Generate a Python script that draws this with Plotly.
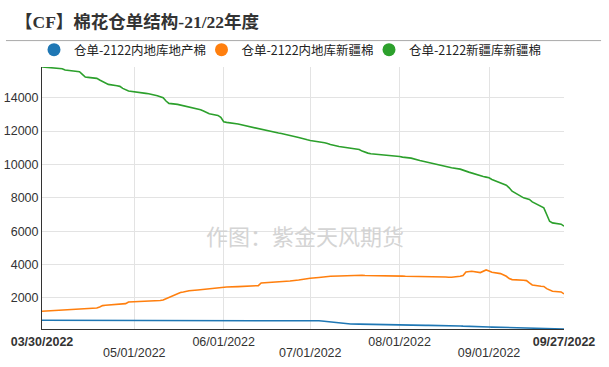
import pandas as pd
import plotly.graph_objects as go

# Trading days (CZCE calendar, 2022-03-30 .. 2022-09-27)
holidays = ["2022-04-04", "2022-04-05", "2022-05-02", "2022-05-03", "2022-05-04",
            "2022-06-03", "2022-09-12"]
dates = [d for d in pd.bdate_range("2022-03-30", "2022-09-27") if d.strftime("%Y-%m-%d") not in holidays]

series_names = ["仓单-2122内地库地产棉", "仓单-2122内地库新疆棉", "仓单-2122新疆库新疆棉"]

blue_vals = [660, 660, 660, 655, 655, 655, 650, 650, 650, 650, 650, 650, 650, 650, 650, 650,
             645, 645, 645, 645, 645, 640, 640, 640, 640, 640, 645, 650, 660, 670, 670, 670,
             665, 660, 660, 655, 650, 650, 650, 645, 645, 645, 640, 640, 640, 640, 640, 640,
             635, 635, 635, 635, 635, 635, 635, 630, 630, 630, 630, 630, 630, 630, 630, 620,
             600, 570, 540, 500, 480, 460, 450, 440, 430, 425, 420, 415, 410, 400, 400, 395,
             390, 385, 380, 378, 375, 372, 370, 365, 365, 360, 360, 360, 350, 345, 340, 335,
             330, 320, 310, 300, 290, 280, 270, 265, 262, 260, 255, 240, 235, 230, 225, 220,
             205, 200, 195, 190, 180, 175, 170, 165, 160, 150, 140]

orange_vals = [1200, 1210, 1220, 1260, 1270, 1280, 1300, 1310, 1320, 1330, 1340, 1400, 1460,
               1540, 1560, 1580, 1620, 1640, 1650, 1660, 1760, 1790, 1800, 1830, 1850, 1880,
               1960, 2060, 2260, 2330, 2360, 2400, 2430, 2480, 2500, 2530, 2550, 2560, 2600,
               2620, 2640, 2660, 2680, 2690, 2700, 2710, 2720, 2740, 2900, 2910, 2920, 2930,
               2950, 2960, 2980, 3000, 3020, 3080, 3110, 3140, 3160, 3180, 3230, 3250, 3270,
               3290, 3300, 3320, 3330, 3340, 3350, 3360, 3360, 3360, 3350, 3350, 3350, 3340,
               3340, 3330, 3330, 3320, 3310, 3310, 3300, 3300, 3300, 3300, 3300, 3300, 3300,
               3300, 3300, 3300, 3260, 3240, 3240, 3300, 3340, 3560, 3580, 3600, 3520, 3600,
               3680, 3620, 3540, 3460, 3400, 3300, 3160, 3100, 3060, 3040, 2900, 2780, 2700,
               2690, 2560, 2460, 2400, 2360, 2240]

green_vals = [15840, 15820, 15800, 15740, 15660, 15640, 15620, 15560, 15400, 15240, 15220,
              15160, 15060, 14980, 14880, 14800, 14720, 14680, 14560, 14460, 14400, 14260,
              14240, 14120, 14060, 14000, 13800, 13660, 13600, 13560, 13520, 13480, 13440,
              13340, 13280, 13200, 13100, 13040, 12940, 12820, 12560, 12520, 12420, 12380,
              12320, 12290, 12260, 12160, 12110, 12060, 12010, 11960, 11880, 11850, 11820,
              11780, 11740, 11620, 11560, 11520, 11480, 11440, 11380, 11340, 11300, 11260,
              11200, 11080, 11060, 11040, 11020, 11000, 10900, 10800, 10720, 10680, 10640,
              10600, 10580, 10560, 10540, 10520, 10480, 10440, 10420, 10400, 10380, 10240,
              10200, 10160, 10120, 10080, 9920, 9880, 9840, 9820, 9800, 9720, 9680, 9600,
              9540, 9480, 9320, 9280, 9240, 9200, 9100, 8920, 8860, 8760, 8600, 8400, 8000,
              7960, 7900, 7760, 7500, 7400, 7000, 6600, 6500, 6420, 6300]

colors = ["#1f77b4", "#ff7f0e", "#2ca02c"]

row1_ticks = ["2022-03-30", "2022-06-01", "2022-08-01", "2022-09-27"]
row1_text = ["<b>03/30/2022</b>", "06/01/2022", "08/01/2022", "<b>09/27/2022</b>"]
month_ticks = ["2022-05-01", "2022-06-01", "2022-07-01", "2022-08-01", "2022-09-01"]
month_text = ["05/01/2022", "", "07/01/2022", "", "09/01/2022"]   # second label row
y_ticks = [2000, 4000, 6000, 8000, 10000, 12000, 14000]

all_vals = blue_vals + orange_vals + green_vals
x_range = [dates[0], dates[-1]]

fig = go.Figure()
for name, vals, c in zip(series_names, [blue_vals, orange_vals, green_vals], colors):
    fig.add_trace(go.Scatter(x=dates, y=vals, mode="lines", name=name,
                             line=dict(color=c, width=1.6), showlegend=False,
                             legendgroup=name))
for i, (name, c) in enumerate(zip(series_names, colors)):
    # legend entries (round markers); they also anchor the second-row date axis
    fig.add_trace(go.Scatter(x=[None], y=[None], mode="markers", name=name,
                             marker=dict(color=c, size=13), legendgroup=name,
                             legendwidth=140 if i == len(series_names) - 1 else None,
                             xaxis="x2", yaxis="y"))

font_main = "Liberation Sans, Arial, Noto Sans CJK SC, sans-serif"
W, H = 609, 367

fig.update_layout(
    width=W, height=H,
    margin=dict(l=42, r=45, t=67, b=38, autoexpand=False),
    paper_bgcolor="white", plot_bgcolor="white",
    font=dict(family=font_main, size=12.5, color="#333"),
    title=dict(text="<b>【CF】棉花仓单结构-21/22年度</b>",
               font=dict(family="Liberation Serif, Noto Sans CJK SC, serif", size=17.5, color="#333"),
               x=15 / W, xanchor="left", xref="container",
               y=1 - 21.5 / H, yanchor="middle", yref="container"),
    legend=dict(orientation="h", xref="container", x=34 / W, xanchor="left",
                yref="container", y=1 - 50 / H, yanchor="middle",
                font=dict(family="Noto Sans CJK SC, Liberation Sans, sans-serif", size=12.5, color="#222"),
                itemwidth=30, entrywidth=122.5, entrywidthmode="pixels",
                tracegroupgap=0, bgcolor="rgba(0,0,0,0)"),
    xaxis=dict(type="date", range=x_range, tickmode="array", tickvals=row1_ticks,
               ticktext=row1_text, showgrid=False,
               showline=True, linecolor="#333", linewidth=1, ticks="",
               ticklabelstandoff=1, zeroline=False, tickangle=0, automargin=False),
    xaxis2=dict(type="date", range=x_range, overlaying="x", anchor="y", side="bottom",
                tickmode="array", tickvals=month_ticks, ticktext=month_text,
                showgrid=True, gridcolor="#e3e3e3", gridwidth=1, showline=False,
                ticks="", ticklabelstandoff=14, zeroline=False, tickangle=0,
                automargin=False),
    yaxis=dict(range=[min(all_vals), max(all_vals)], tickmode="array", tickvals=y_ticks,
               tickformat="d", showgrid=True, gridcolor="#e3e3e3", gridwidth=1,
               showline=True, linecolor="#333", linewidth=1, ticks="", zeroline=False,
               ticklabelstandoff=0, automargin=False),
)

# separator line under the title
fig.add_shape(type="line", xref="paper", yref="paper", x0=-0.069, x1=1.071,
              y0=1.1008, y1=1.1008, line=dict(color="#aaaaaa", width=1))

# watermark
fig.add_annotation(text="作图：紫金天风期货", xref="paper", yref="paper", x=0.504, y=0.29,
                   showarrow=False, font=dict(family="Noto Sans CJK SC, sans-serif",
                                              size=22, color="#d4d4d4"))

# remove the default 8px page margin so the figure sits at the window origin
fig.write_html("out.html", config={"displayModeBar": False},
               post_script="document.body.style.margin='0';")
